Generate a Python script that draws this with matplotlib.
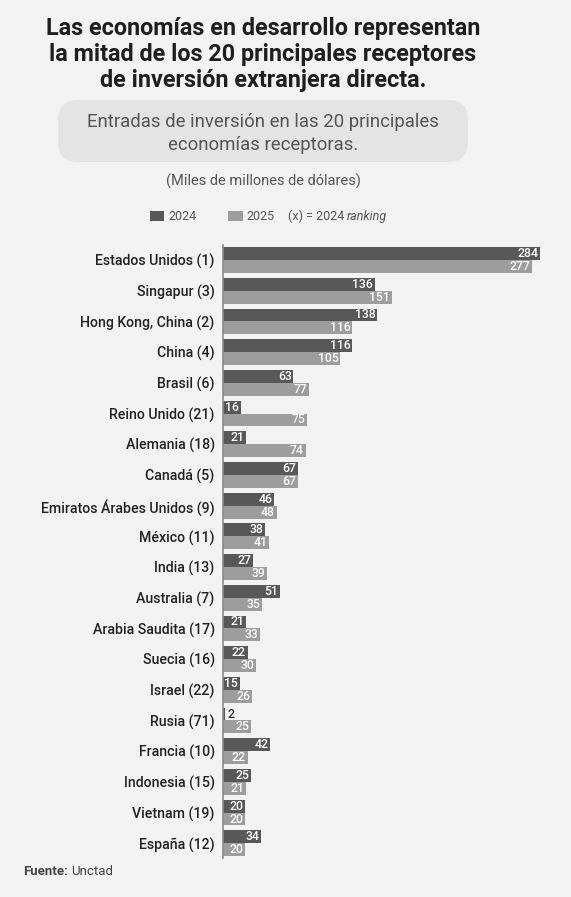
import matplotlib.pyplot as plt
from matplotlib.patches import FancyBboxPatch, Rectangle

countries = ['Estados Unidos (1)', 'Singapur (3)', 'Hong Kong, China (2)', 'China (4)',
             'Brasil (6)', 'Reino Unido (21)', 'Alemania (18)', 'Canadá (5)',
             'Emiratos Árabes Unidos (9)', 'México (11)', 'India (13)', 'Australia (7)',
             'Arabia Saudita (17)', 'Suecia (16)', 'Israel (22)', 'Rusia (71)',
             'Francia (10)', 'Indonesia (15)', 'Vietnam (19)', 'España (12)']
v2024 = [284, 136, 138, 116, 63, 16, 21, 67, 46, 38, 27, 51, 21, 22, 15, 2, 42, 25, 20, 34]
v2025 = [277, 151, 116, 105, 77, 75, 74, 67, 48, 41, 39, 35, 33, 30, 26, 25, 22, 21, 20, 20]

plt.rcParams['font.family'] = ['Roboto', 'DejaVu Sans']

bg = '#f3f3f3'
dark = '#585858'
light = '#9d9d9d'

W, H = 571, 897
fig = plt.figure(figsize=(W / 100, H / 100), dpi=100, facecolor=bg)
renderer = fig.canvas.get_renderer()

def fx(px):
    return px / W

def fy(py):
    return 1 - py / H

def text_after(t, gap, **kw):
    # put a second piece of text right after t
    bb = t.get_window_extent(renderer)
    x = (bb.x1 + gap) / W
    y = t.get_position()[1]
    return fig.text(x, y, **kw)

# title
title = ['Las economías en desarrollo representan',
         'la mitad de los 20 principales receptores',
         'de inversión extranjera directa.']
for i, line in enumerate(title):
    fig.text(fx(263), fy(28 + 26.5 * i), line, ha='center', va='center',
             fontsize=16.8, fontweight='bold', color='#1e1e1e')

# subtitle box
box = FancyBboxPatch((fx(58), fy(162)), fx(468) - fx(58), fy(100) - fy(162),
                     boxstyle='round,pad=0,rounding_size=0.035', transform=fig.transFigure,
                     facecolor='#e4e4e4', edgecolor='none', mutation_aspect=W / H)
fig.patches.append(box)
fig.text(fx(263), fy(122), 'Entradas de inversión en las 20 principales', ha='center', va='center',
         fontsize=13.4, color='#555555')
fig.text(fx(263), fy(145), 'economías receptoras.', ha='center', va='center',
         fontsize=13.4, color='#555555')
fig.text(fx(263), fy(181), '(Miles de millones de dólares)', ha='center', va='center',
         fontsize=10.5, color='#555555')

# legend
fig.patches.append(Rectangle((fx(150), fy(221)), fx(14), fy(211) - fy(221),
                             transform=fig.transFigure, facecolor=dark, edgecolor='none'))
fig.text(fx(168), fy(216), '2024', va='center', fontsize=9, color='#555555')
fig.patches.append(Rectangle((fx(228), fy(221)), fx(15), fy(211) - fy(221),
                             transform=fig.transFigure, facecolor=light, edgecolor='none'))
fig.text(fx(246), fy(216), '2025', va='center', fontsize=9, color='#555555')
rk = fig.text(fx(288), fy(216), '(x) = 2024', va='center', fontsize=9, color='#555555')
text_after(rk, 3, s='ranking', va='center', fontsize=9, color='#555555', style='italic')

# chart
ax = fig.add_axes([fx(223), fy(858), fx(571 - 223), fy(245) - fy(858)])
ax.set_facecolor(bg)
ys = list(range(len(countries)))
h = 0.42
ax.barh([y - h / 2 for y in ys], v2024, height=h, color=dark)
ax.barh([y + h / 2 for y in ys], v2025, height=h, color=light)
ax.set_xlim(0, 284 * 348 / 317)
ax.set_ylim(19.48, -0.49)

for y, a, b in zip(ys, v2024, v2025):
    for val, off in ((a, -h / 2), (b, h / 2)):
        if val < 10:
            ax.text(val + 2, y + off, str(val), ha='left', va='center', fontsize=8.8,
                    color='#333333', fontweight='medium')
        else:
            ax.text(val - 1.5, y + off, str(val), ha='right', va='center', fontsize=8.8,
                    color='white', fontweight='medium')

ax.set_yticks(ys)
ax.set_yticklabels(countries, fontsize=10.2, color='#222222', fontweight='medium')
ax.tick_params(axis='y', length=0, pad=6)
ax.set_xticks([])
for s in ['top', 'right', 'bottom']:
    ax.spines[s].set_visible(False)
ax.spines['left'].set_color('#8a8a8a')
ax.spines['left'].set_linewidth(1.2)

# footer
ft = fig.text(fx(23), fy(871), 'Fuente:', va='center', fontsize=9.5, fontweight='bold', color='#444444')
text_after(ft, 3, s='Unctad', va='center', fontsize=9.5, color='#444444')

fig.savefig('out.png', dpi=100, facecolor=bg)
